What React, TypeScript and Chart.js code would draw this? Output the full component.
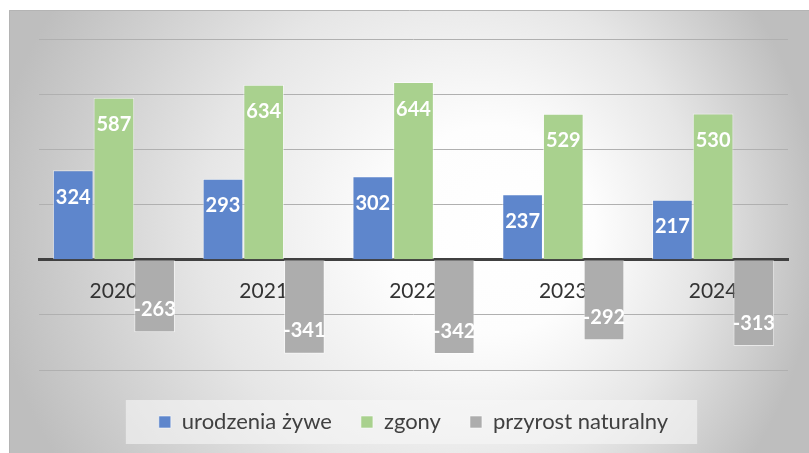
import React, { useEffect, useRef } from "react";
import { Chart, registerables } from "chart.js";

Chart.register(...registerables);

const categories = ["2020", "2021", "2022", "2023", "2024"];
const birthsValues = [324, 293, 302, 237, 217];
const deathsValues = [587, 634, 644, 529, 530];
const growthValues = [-263, -341, -342, -292, -313];
const seriesNames = ["urodzenia żywe", "zgony", "przyrost naturalny"];
const seriesColors = ["#5E86CC", "#A9D18E", "#ADADAD"];
const yMin = -400;
const yMax = 800;
const yStep = 200;

const FONT = "Lato, 'Open Sans', sans-serif";

const backgroundPlugin = {
  id: "bgPlugin",
  beforeDraw(chart: any) {
    const { ctx, width, height } = chart;
    ctx.save();
    const fx = 511, fy = 220;
    const g = ctx.createRadialGradient(fx, fy, 0, 395, 220, 415);
    g.addColorStop(0, "#ffffff");
    g.addColorStop(0.25, "#fdfdfd");
    g.addColorStop(0.6, "#e6e6e6");
    g.addColorStop(1, "#bebebe");
    ctx.fillStyle = g;
    ctx.fillRect(0, 0, width, height);
    ctx.strokeStyle = "#b4b4b4";
    ctx.lineWidth = 1;
    ctx.beginPath();
    ctx.moveTo(0.5, height);
    ctx.lineTo(0.5, 0.5);
    ctx.lineTo(width, 0.5);
    ctx.stroke();
    // legend backdrop
    const lg = chart.legend;
    if (lg && lg.legendHitBoxes && lg.legendHitBoxes.length) {
      const hb = lg.legendHitBoxes;
      const left = hb[0].left - 33;
      const last = hb[hb.length - 1];
      const right = last.left + last.width + 29;
      const cy = hb[0].top + hb[0].height / 2;
      ctx.fillStyle = "rgba(246,246,246,0.6)";
      ctx.fillRect(left, cy - 22, right - left, 44);
    }
    ctx.restore();
  },
};

const labelPlugin = {
  id: "valueLabels",
  afterDatasetsDraw(chart: any) {
    const { ctx } = chart;
    ctx.save();
    ctx.font = `bold 20px ${FONT}`;
    ctx.fillStyle = "#ffffff";
    ctx.textAlign = "center";
    ctx.textBaseline = "alphabetic";
    chart.data.datasets.forEach((ds: any, di: number) => {
      const meta = chart.getDatasetMeta(di);
      meta.data.forEach((bar: any, i: number) => {
        const v = ds.data[i];
        const y = v >= 0 ? bar.y + 33.5 : bar.y - 16.5;
        ctx.fillText(String(v), bar.x, y);
      });
    });
    ctx.restore();
  },
};

export default function App() {
  const ref = useRef<HTMLCanvasElement | null>(null);
  useEffect(() => {
    if (!ref.current) return;
    const values = [birthsValues, deathsValues, growthValues];
    const chart = new Chart(ref.current, {
      type: "bar",
      data: {
        labels: categories,
        datasets: seriesNames.map((name, i) => ({
          label: name,
          data: values[i],
          backgroundColor: seriesColors[i],
          borderColor: "rgba(255,255,255,0.55)",
          borderWidth: 1,
          categoryPercentage: 0.815,
          barPercentage: 1,
        })),
      },
      options: {
        animation: false,
        responsive: true,
        maintainAspectRatio: false,
        layout: { padding: { left: 30, right: 21, top: 29, bottom: 10 } },
        scales: {
          x: {
            type: "category",
            position: { y: 0 } as any,
            z: 1,
            grid: { display: false, drawTicks: false },
            border: { display: true, color: "#404040", width: 3 },
            ticks: {
              font: { family: FONT, size: 21 },
              color: "#333333",
              padding: 19,
              maxRotation: 0,
            },
          },
          y: {
            min: yMin,
            max: yMax,
            ticks: { display: false, stepSize: yStep },
            grid: { color: "#b0b0b0", lineWidth: 1, drawTicks: false },
            border: { display: false },
          },
        },
        plugins: {
          tooltip: { enabled: false },
          legend: {
            position: "bottom",
            title: { display: true, text: " ", font: { size: 12, lineHeight: 1 }, padding: 0 },
            labels: {
              boxWidth: 12,
              boxHeight: 12,
              padding: 29,
              font: { family: FONT, size: 22 },
              color: "#404040",
            },
          },
        },
      },
      plugins: [backgroundPlugin, labelPlugin],
    });
    return () => chart.destroy();
  }, []);
  return (
    <div style={{ position: "absolute", left: 9, top: 10, width: 800, height: 443 }}>
      <canvas ref={ref} />
    </div>
  );
}
